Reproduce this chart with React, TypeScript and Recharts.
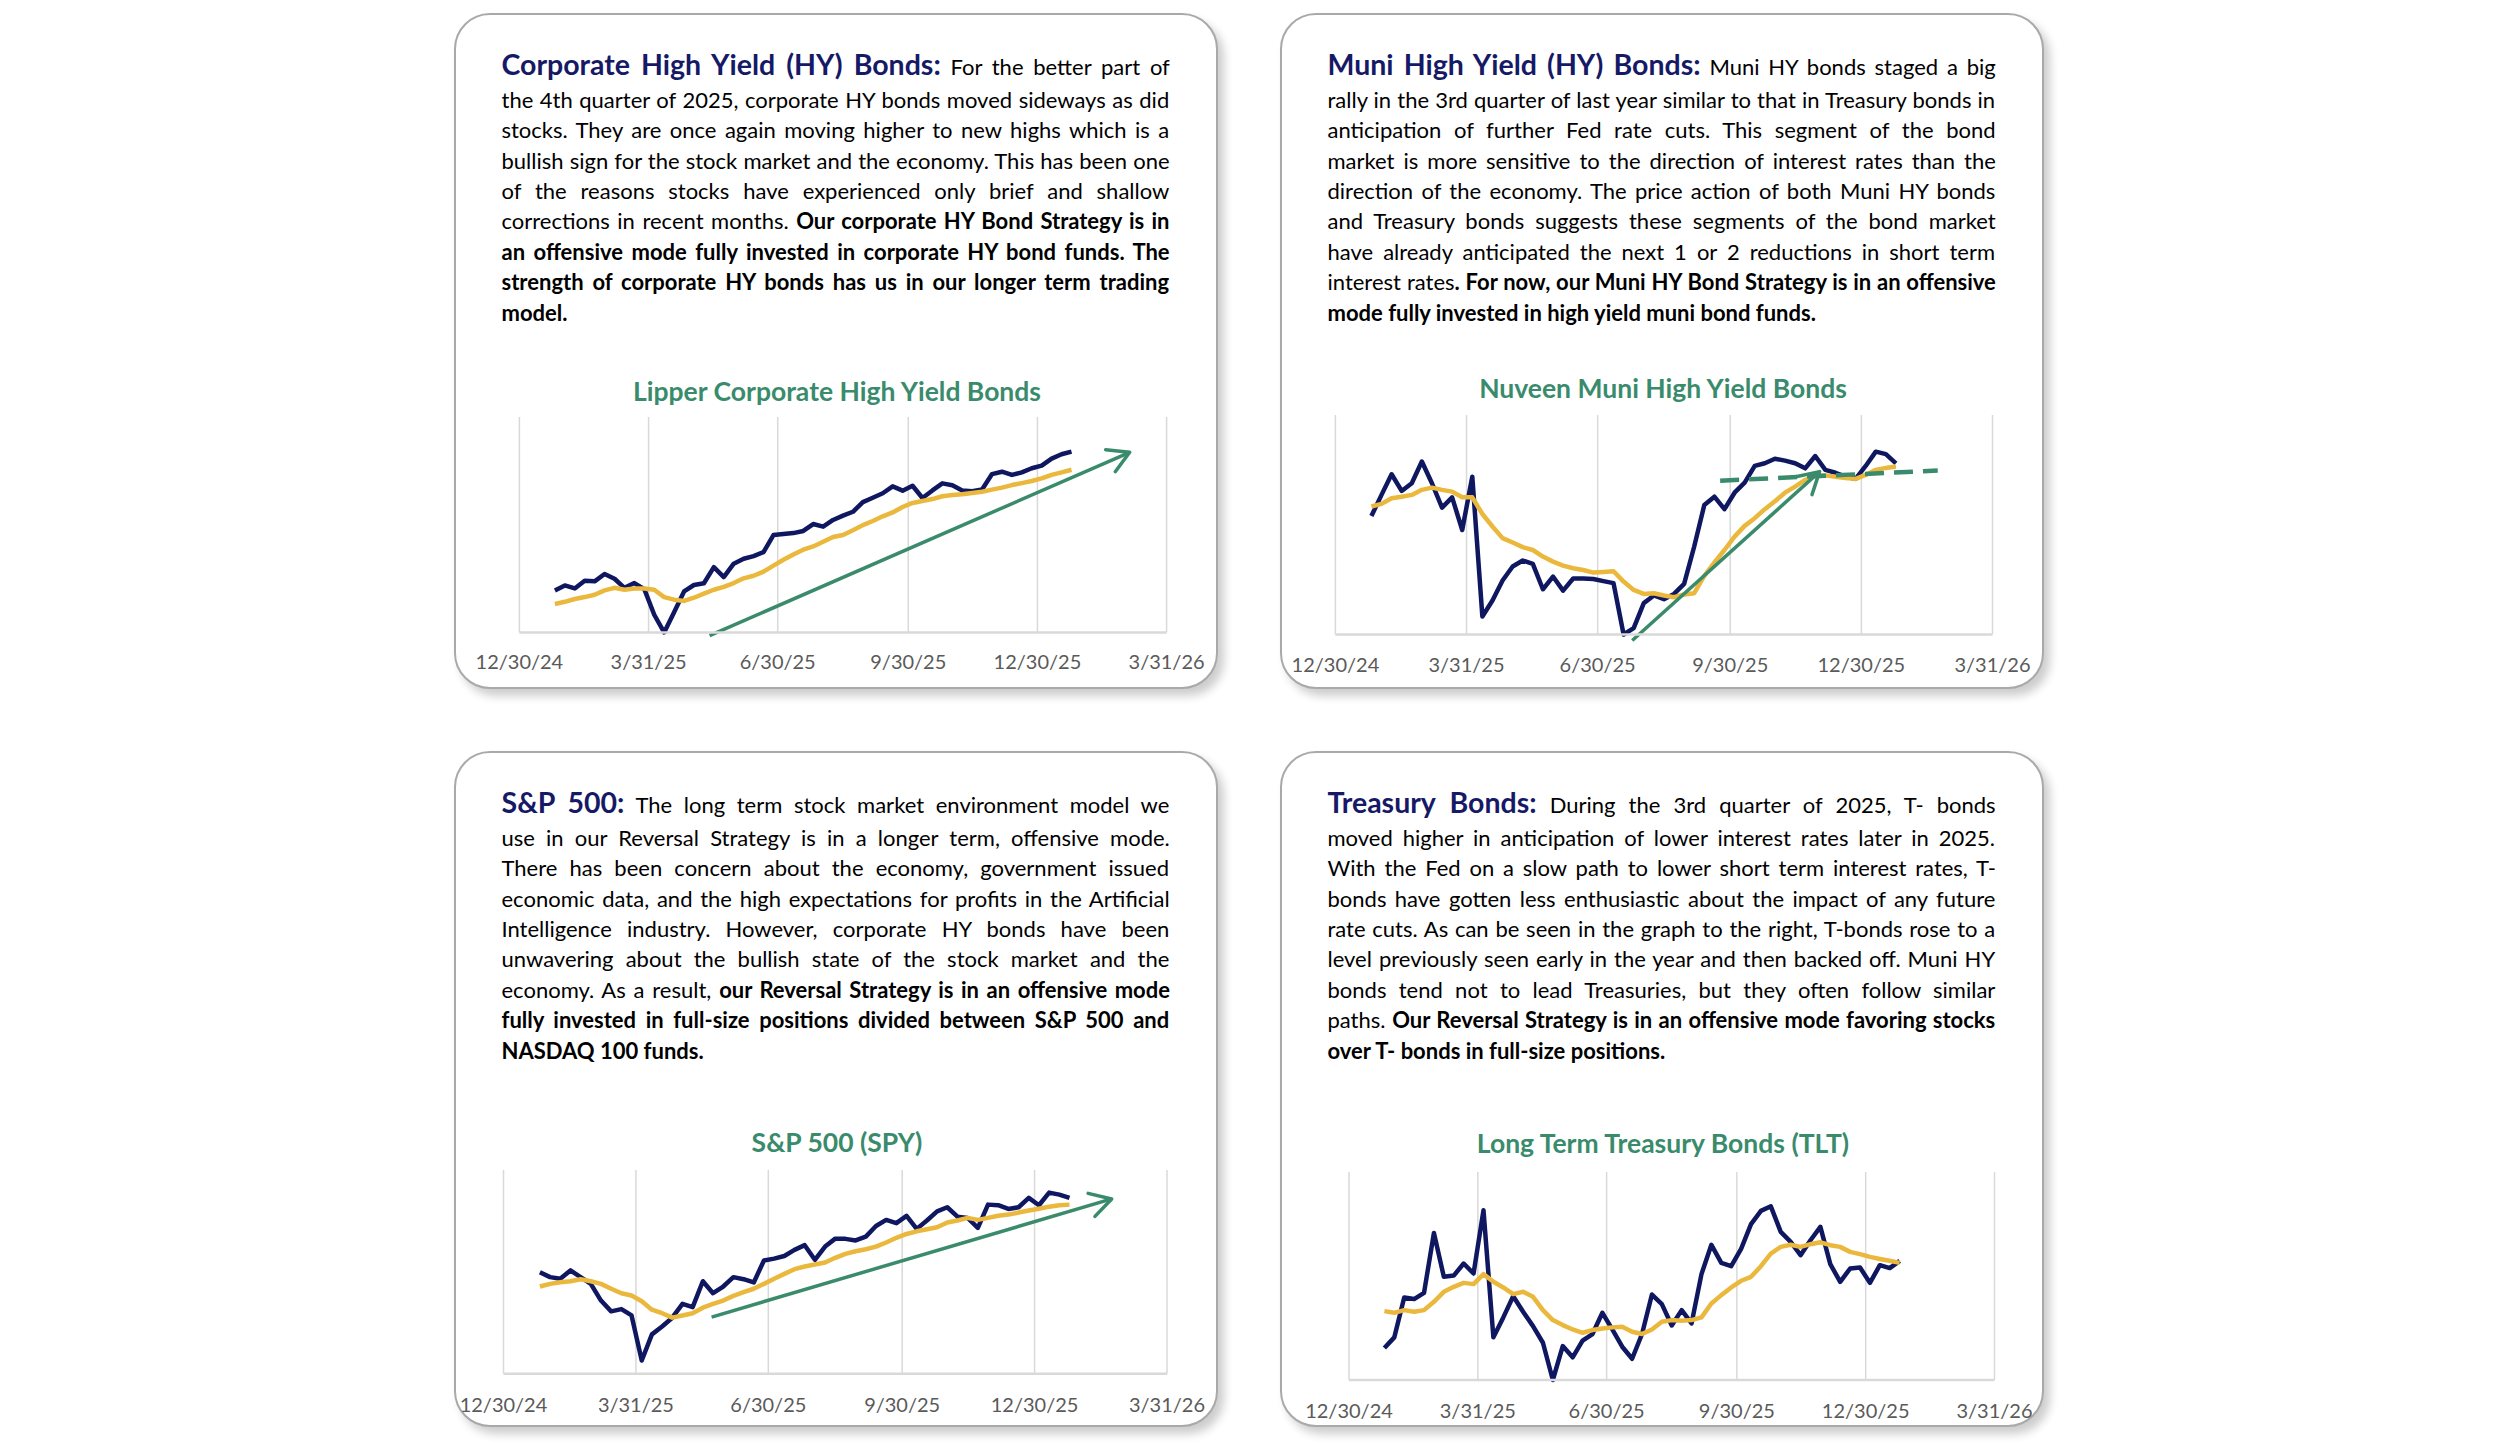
import { useLayoutEffect, useRef, useState } from "react";
import { CartesianGrid, Line, LineChart, ReferenceLine, XAxis, YAxis } from "recharts";

const FONT = "Lato, 'Open Sans', sans-serif";
const NAVY = "#161a66";
const LINE_BLUE = "#0f1760";
const GOLD = "#ebb83e";
const GREEN = "#3a8b6c";
const GRID = "#d9d9d9";
const TICK = "#5a5a5a";

const PANEL_W = 764;
const PANEL_H = 676;
const TEXT_W = 668;

// weekly closes, as day offsets from 12/30/24 (1/24/25 .. 1/23/26)
const weekDays = [
  25, 32, 39, 46, 53, 60, 67, 74, 81, 88, 95, 102, 109, 116, 123, 130, 137, 144,
  151, 158, 165, 172, 179, 186, 193, 200, 207, 214, 221, 228, 235, 242, 249, 256,
  263, 270, 277, 284, 291, 298, 305, 312, 319, 326, 333, 340, 347, 354, 361, 368,
  375, 382, 389,
];
const tickDays = [0, 91, 182, 274, 365, 456];
const tickLabels = ["12/30/24", "3/31/25", "6/30/25", "9/30/25", "12/30/25", "3/31/26"];

// values on a 0..100 scale (axis = 0, top of grid = 100)
const hyPrice = [
  19.5, 21.8, 20.4, 24.0, 23.7, 27.1, 24.9, 20.7, 22.9, 20.1, 8.2, 0, 9.4, 19.0,
  22.0, 22.8, 30.3, 25.7, 31.9, 34.2, 35.4, 37.3, 45.2, 45.7, 46.1, 47.1, 50.3,
  49.1, 52.2, 54.2, 56.0, 60.5, 62.5, 64.6, 67.8, 65.8, 68.1, 62.4, 65.9, 69.2,
  68.3, 65.9, 65.5, 66.3, 73.5, 74.6, 73.1, 74.3, 76.2, 77.4, 80.7, 82.7, 83.9,
];
const hyAvg = [
  13.2, 14.2, 15.5, 16.4, 17.5, 19.5, 20.7, 19.8, 20.4, 20.4, 19.8, 16.4, 15.2,
  14.6, 16.1, 18.0, 19.8, 21.1, 22.9, 25.1, 26.3, 28.2, 31.0, 33.7, 36.2, 38.4,
  39.9, 42.1, 44.3, 45.2, 47.4, 49.8, 51.7, 53.9, 55.7, 58.2, 60.1, 61.0, 61.9,
  63.2, 63.8, 64.1, 64.7, 65.3, 66.3, 67.2, 68.4, 69.3, 70.3, 71.5, 73.1, 74.3, 75.5,
];
const hyArrow = [
  { x: 134, y: -1.5 },
  { x: 430, y: 83.6 },
];

const muniPrice = [
  54.0, 63.6, 73.0, 65.4, 68.9, 78.8, 68.9, 57.8, 62.5, 47.6, 71.9, 8.2, 15.5,
  24.6, 31.0, 33.7, 32.2, 20.6, 26.4, 20.0, 25.5, 25.5, 25.3, 24.3, 23.4, 0, 2.9,
  14.3, 17.8, 16.1, 18.5, 23.1, 40.1, 59.0, 62.8, 57.1, 64.6, 69.2, 76.8, 78.0,
  80.1, 79.2, 78.0, 75.7, 81.3, 75.0, 73.7, 71.9, 70.9, 76.8, 83.3, 82.2, 78.0,
];
const muniAvg = [
  58.3, 59.5, 62.1, 62.8, 63.6, 65.9, 66.9, 65.9, 65.1, 62.5, 62.5, 54.9, 49.2,
  43.9, 41.9, 39.8, 38.5, 35.5, 33.2, 31.4, 30.2, 29.4, 28.2, 28.5, 28.8, 24.1,
  20.3, 18.5, 18.8, 17.8, 17.0, 18.2, 18.8, 26.7, 32.8, 38.5, 44.6, 49.5, 53.0,
  57.1, 60.7, 64.6, 67.4, 70.4, 72.2, 72.5, 71.9, 71.3, 70.9, 72.7, 75.0, 75.9, 76.5,
];
const muniArrow = [
  { x: 206, y: -2.7 },
  { x: 336, y: 74.2 },
];
const muniLevel = [
  { x: 267, y: 70.1 },
  { x: 418, y: 74.7 },
];

const spyPrice = [
  49.8, 47.4, 46.6, 50.7, 47.4, 44.1, 35.9, 30.6, 31.7, 28.6, 6.5, 19.3, 23.2,
  27.5, 34.3, 32.7, 45.4, 39.5, 42.8, 47.4, 46.4, 44.8, 55.6, 56.5, 57.8, 60.8,
  63.1, 55.9, 62.4, 66.3, 66.2, 65.4, 67.3, 72.5, 75.5, 73.9, 77.5, 71.1, 75.2,
  79.7, 81.7, 77.1, 76.5, 71.6, 83.0, 82.7, 80.9, 81.7, 86.3, 82.7, 88.9, 87.9, 86.3,
];
const spyAvg = [
  42.8, 44.1, 44.9, 45.4, 46.4, 45.4, 44.1, 41.7, 39.5, 38.4, 35.6, 31.4, 29.7,
  27.5, 28.6, 29.7, 32.4, 34.3, 35.9, 38.2, 40.0, 41.7, 44.1, 46.6, 49.0, 51.3,
  52.6, 53.6, 54.6, 56.9, 58.8, 60.1, 61.1, 62.4, 64.4, 66.7, 68.6, 69.9, 70.9,
  71.9, 74.2, 75.2, 76.5, 75.5, 76.5, 77.5, 78.1, 79.1, 80.1, 81.0, 82.0, 82.7, 83.0,
];
const spyArrow = [
  { x: 143, y: 27.8 },
  { x: 418, y: 85.8 },
];

const tltPrice = [
  15.4, 20.5, 39.7, 38.9, 41.9, 70.7, 49.6, 50.2, 56.0, 51.2, 81.6, 20.5, 30.1,
  40.3, 32.8, 25.9, 17.9, 0, 16.3, 10.9, 18.9, 22.1, 32.3, 24.3, 16.0, 10.2,
  22.1, 41.1, 36.5, 26.2, 33.6, 27.2, 50.9, 65.0, 56.3, 54.7, 63.0, 74.9, 81.3,
  83.5, 71.2, 66.4, 60.0, 67.2, 73.6, 55.7, 47.2, 53.6, 54.1, 46.7, 55.2, 53.8, 57.3,
];
const tltAvg = [
  33.1, 32.3, 33.6, 32.8, 33.6, 37.6, 42.4, 44.8, 46.7, 46.1, 50.9, 47.2, 44.5,
  41.3, 42.4, 40.0, 33.6, 28.8, 26.4, 24.3, 22.7, 24.0, 24.8, 25.3, 25.6, 23.2,
  22.1, 24.3, 28.0, 28.8, 28.5, 28.8, 30.1, 36.8, 40.8, 44.5, 47.7, 49.6, 54.7,
  60.8, 64.0, 65.0, 64.0, 65.3, 66.2, 64.8, 64.0, 61.6, 60.5, 59.2, 58.2, 57.3, 56.3,
];

type Seg = { t: string; b?: boolean; h?: boolean };

const hyText: Seg[][] = [
  [{ t: "Corporate High Yield (HY) Bonds:", h: true }, { t: " For the better part of" }],
  [{ t: "the 4th quarter of 2025, corporate HY bonds moved sideways as did" }],
  [{ t: "stocks. They are once again moving higher to new highs which is a" }],
  [{ t: "bullish sign for the stock market and the economy. This has been one" }],
  [{ t: "of the reasons stocks have experienced only brief and shallow" }],
  [{ t: "corrections in recent months. " }, { t: "Our corporate HY Bond Strategy is in", b: true }],
  [{ t: "an offensive mode fully invested in corporate HY bond funds. The", b: true }],
  [{ t: "strength of corporate HY bonds has us in our longer term trading", b: true }],
  [{ t: "model.", b: true }],
];

const muniText: Seg[][] = [
  [{ t: "Muni High Yield (HY) Bonds:", h: true }, { t: " Muni HY bonds staged a big" }],
  [{ t: "rally in the 3rd quarter of last year similar to that in Treasury bonds in" }],
  [{ t: "anticipation of further Fed rate cuts. This segment of the bond" }],
  [{ t: "market is more sensitive to the direction of interest rates than the" }],
  [{ t: "direction of the economy. The price action of both Muni HY bonds" }],
  [{ t: "and Treasury bonds suggests these segments of the bond market" }],
  [{ t: "have already anticipated the next 1 or 2 reductions in short term" }],
  [{ t: "interest rates" }, { t: ". For now, our Muni HY Bond Strategy is in an offensive", b: true }],
  [{ t: "mode fully invested in high yield muni bond funds.", b: true }],
];

const spyText: Seg[][] = [
  [{ t: "S&P 500:", h: true }, { t: " The long term stock market environment model we" }],
  [{ t: "use in our Reversal Strategy is in a longer term, offensive mode." }],
  [{ t: "There has been concern about the economy, government issued" }],
  [{ t: "economic data, and the high expectations for profits in the Artificial" }],
  [{ t: "Intelligence industry. However, corporate HY bonds have been" }],
  [{ t: "unwavering about the bullish state of the stock market and the" }],
  [{ t: "economy. As a result, " }, { t: "our Reversal Strategy is in an offensive mode", b: true }],
  [{ t: "fully invested in full-size positions divided between S&P 500 and", b: true }],
  [{ t: "NASDAQ 100 funds.", b: true }],
];

const tltText: Seg[][] = [
  [{ t: "Treasury Bonds:", h: true }, { t: " During the 3rd quarter of 2025, T- bonds" }],
  [{ t: "moved higher in anticipation of lower interest rates later in 2025." }],
  [{ t: "With the Fed on a slow path to lower short term interest rates, T-" }],
  [{ t: "bonds have gotten less enthusiastic about the impact of any future" }],
  [{ t: "rate cuts. As can be seen in the graph to the right, T-bonds rose to a" }],
  [{ t: "level previously seen early in the year and then backed off. Muni HY" }],
  [{ t: "bonds tend not to lead Treasuries, but they often follow similar" }],
  [{ t: "paths. " }, { t: "Our Reversal Strategy is in an offensive mode favoring stocks", b: true }],
  [{ t: "over T- bonds in full-size positions.", b: true }],
];

const BODY_FS = 22;
const LINE_H = 30;

function lineBaseline(k: number) {
  return k === 0 ? 62 : 94.3 + 30.4 * (k - 1);
}

function TextLine({ segs, k, justify }: { segs: Seg[]; k: number; justify: boolean }) {
  const ref = useRef<HTMLSpanElement>(null);
  const applied = useRef({ ws: 0, sx: 1 });
  const [fit, setFit] = useState({ ws: 0, sx: 1 });

  useLayoutEffect(() => {
    const spaces = (segs.map((s) => s.t).join("").trim().match(/ /g) || []).length;
    const measure = () => {
      const el = ref.current;
      if (!el) return;
      const natural = el.offsetWidth - applied.current.ws * spaces;
      let next = { ws: 0, sx: 1 };
      if (natural > TEXT_W) next = { ws: 0, sx: TEXT_W / natural };
      else if (justify && spaces > 0) next = { ws: (TEXT_W - natural) / spaces, sx: 1 };
      applied.current = next;
      setFit(next);
    };
    measure();
    if (document.fonts) document.fonts.ready.then(measure);
  }, []);

  const top = lineBaseline(k) - (LINE_H / 2 + 0.387 * BODY_FS);
  return (
    <div style={{ position: "absolute", left: 46.5, top, width: TEXT_W, height: LINE_H, lineHeight: `${LINE_H}px` }}>
      <span
        ref={ref}
        style={{
          display: "inline-block",
          whiteSpace: "pre",
          wordSpacing: fit.ws,
          transform: `scaleX(${fit.sx})`,
          transformOrigin: "0 0",
          fontSize: BODY_FS,
          color: "#000",
        }}
      >
        {segs.map((s, i) => (
          <span
            key={i}
            style={
              s.h
                ? { fontSize: 28.5, fontWeight: 700, color: NAVY, lineHeight: "20px" }
                : s.b
                ? { fontWeight: 700 }
                : undefined
            }
          >
            {s.t}
          </span>
        ))}
      </span>
    </div>
  );
}

type Pt = { x: number; y: number };
type Spec = {
  id: string;
  title: string;
  titleY: number;
  price: number[];
  avg: number[];
  left: number;
  right: number;
  top: number;
  bottom: number;
  labelDy: number;
  arrows: { seg: Pt[]; head: boolean; dash?: boolean }[];
};

function TrendChart({ spec }: { spec: Spec }) {
  const rows = weekDays.map((d, i) => ({ d, price: spec.price[i], avg: spec.avg[i] }));
  const padTop = 20;
  const axisH = 40;
  const padBottom = 10;
  const h = padTop + (spec.bottom - spec.top) + axisH + padBottom;
  const markerId = `head-${spec.id}`;
  return (
    <>
      <div
        style={{
          position: "absolute",
          left: 0,
          width: PANEL_W,
          top: spec.titleY - 20,
          height: 40,
          lineHeight: "40px",
          textAlign: "center",
          color: GREEN,
          fontWeight: 700,
          fontSize: 26.5,
        }}
      >
        {spec.title}
      </div>
      <div style={{ position: "absolute", left: 0, top: spec.top - padTop }}>
        <LineChart
          width={PANEL_W}
          height={h}
          data={rows}
          margin={{ top: padTop, right: PANEL_W - spec.right, bottom: padBottom, left: spec.left }}
        >
          <defs>
            <marker
              id={markerId}
              markerUnits="userSpaceOnUse"
              markerWidth={32}
              markerHeight={32}
              viewBox="0 0 32 32"
              refX={28}
              refY={16}
              orient="auto"
            >
              <path
                d="M7 4 L28 16 L7 28"
                fill="none"
                stroke={GREEN}
                strokeWidth={3.5}
                strokeLinecap="round"
                strokeLinejoin="round"
              />
            </marker>
          </defs>
          <CartesianGrid horizontal={false} stroke={GRID} strokeWidth={1.5} />
          <XAxis
            dataKey="d"
            type="number"
            domain={[0, 456]}
            ticks={tickDays}
            interval={0}
            height={axisH}
            tickSize={0}
            tickMargin={0}
            tickLine={false}
            axisLine={{ stroke: GRID, strokeWidth: 2.5 }}
            tick={(p: any) => (
              <text
                x={p.x}
                y={p.y + spec.labelDy}
                textAnchor="middle"
                dominantBaseline="central"
                fill={TICK}
                fontSize={20}
                fontFamily={FONT}
              >
                {tickLabels[tickDays.indexOf(p.payload.value)]}
              </text>
            )}
          />
          <YAxis hide width={0} domain={[0, 100]} />
          <Line
            dataKey="price"
            stroke={LINE_BLUE}
            strokeWidth={4.5}
            strokeLinejoin="round"
            dot={false}
            activeDot={false}
            isAnimationActive={false}
          />
          <Line
            dataKey="avg"
            stroke={GOLD}
            strokeWidth={4.5}
            strokeLinejoin="round"
            dot={false}
            activeDot={false}
            isAnimationActive={false}
          />
          {spec.arrows.map((a, i) => (
            <ReferenceLine
              key={i}
              segment={a.seg}
              ifOverflow="visible"
              stroke={GREEN}
              strokeWidth={a.dash ? 4.5 : 3.5}
              strokeDasharray={a.dash ? "19 10" : undefined}
              markerEnd={a.head ? `url(#${markerId})` : undefined}
            />
          ))}
        </LineChart>
      </div>
    </>
  );
}

function Panel({ x, y, text, spec }: { x: number; y: number; text: Seg[][]; spec: Spec }) {
  return (
    <div
      style={{
        position: "absolute",
        left: x - 1,
        top: y - 1,
        width: PANEL_W,
        height: PANEL_H,
        boxSizing: "border-box",
        border: "2px solid #a9a9a9",
        borderRadius: 36,
        background: "#fff",
        boxShadow: "6px 7px 10px rgba(0,0,0,0.2)",
      }}
    >
      <div style={{ position: "absolute", left: -1, top: -1, width: PANEL_W, height: PANEL_H }}>
        {text.map((segs, k) => (
          <TextLine key={k} segs={segs} k={k} justify={k < text.length - 1} />
        ))}
        <TrendChart spec={spec} />
      </div>
    </div>
  );
}

const hySpec: Spec = {
  id: "hy",
  title: "Lipper Corporate High Yield Bonds",
  titleY: 376.7,
  price: hyPrice,
  avg: hyAvg,
  left: 64.4,
  right: 711.6,
  top: 403.3,
  bottom: 618.7,
  labelDy: 28.5,
  arrows: [{ seg: hyArrow, head: true }],
};

const muniSpec: Spec = {
  id: "muni",
  title: "Nuveen Muni High Yield Bonds",
  titleY: 374,
  price: muniPrice,
  avg: muniAvg,
  left: 54.4,
  right: 711.5,
  top: 401,
  bottom: 620.5,
  labelDy: 29,
  arrows: [
    { seg: muniArrow, head: true },
    { seg: muniLevel, head: false, dash: true },
  ],
};

const spySpec: Spec = {
  id: "spy",
  title: "S&P 500 (SPY)",
  titleY: 389.7,
  price: spyPrice,
  avg: spyAvg,
  left: 48.5,
  right: 712,
  top: 417.5,
  bottom: 621.2,
  labelDy: 30,
  arrows: [{ seg: spyArrow, head: true }],
};

const tltSpec: Spec = {
  id: "tlt",
  title: "Long Term Treasury Bonds (TLT)",
  titleY: 390.7,
  price: tltPrice,
  avg: tltAvg,
  left: 68,
  right: 713.5,
  top: 420,
  bottom: 628,
  labelDy: 29.5,
  arrows: [],
};

export default function App() {
  return (
    <div
      style={{
        position: "absolute",
        left: 0,
        top: 0,
        width: 2500,
        height: 1443,
        overflow: "hidden",
        background: "#fff",
        fontFamily: FONT,
      }}
    >
      <Panel x={455} y={14} text={hyText} spec={hySpec} />
      <Panel x={1281} y={14} text={muniText} spec={muniSpec} />
      <Panel x={455} y={752} text={spyText} spec={spySpec} />
      <Panel x={1281} y={752} text={tltText} spec={tltSpec} />
    </div>
  );
}
